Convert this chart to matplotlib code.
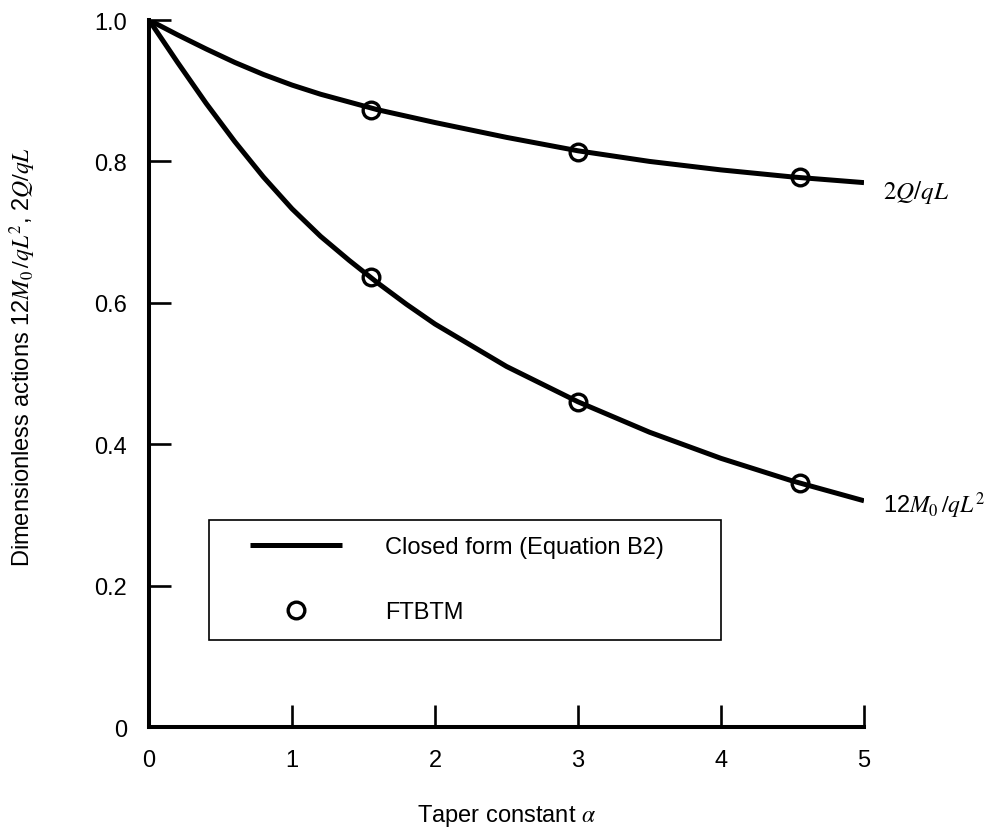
import numpy as np
import matplotlib
matplotlib.use("Agg")
import matplotlib.pyplot as plt
from matplotlib.legend_handler import HandlerLine2D

plt.rcParams['font.family'] = ['Liberation Sans', 'DejaVu Sans']
plt.rcParams['mathtext.fontset'] = 'stix'

# closed form curves
alpha_curve = [0, 0.2, 0.4, 0.6, 0.8, 1.0, 1.2, 1.4, 1.6, 1.8, 2.0, 2.5, 3.0, 3.5, 4.0, 4.5, 5.0]
shear_curve = [1.0, 0.979, 0.959, 0.94, 0.923, 0.908, 0.895, 0.884, 0.873, 0.864, 0.855,
               0.834, 0.815, 0.80, 0.788, 0.778, 0.770]
moment_curve = [1.0, 0.94, 0.882, 0.828, 0.778, 0.733, 0.694, 0.66, 0.628, 0.598, 0.57,
                0.51, 0.46, 0.417, 0.38, 0.348, 0.32]

# FTBTM points
alpha_pts = [1.55, 3.0, 4.55]
shear_pts = [0.873, 0.814, 0.778]
moment_pts = [0.636, 0.460, 0.345]

xticks = [0, 1, 2, 3, 4, 5]
yticks = [0, 0.2, 0.4, 0.6, 0.8, 1.0]
ytick_labels = ['0', '0.2', '0.4', '0.6', '0.8', '1.0']

fig = plt.figure(figsize=(10, 8.37), dpi=100)
ax = fig.add_axes([0.149, 0.1302, 0.715, 0.8447])

lw = 3.6
ax.plot(alpha_curve, shear_curve, color='black', lw=lw, solid_capstyle='butt',
        solid_joinstyle='round', label='Closed form (Equation B2)')
ax.plot(alpha_curve, moment_curve, color='black', lw=lw, solid_capstyle='butt',
        solid_joinstyle='round')
ax.plot(alpha_pts, shear_pts, ls='none', marker='o', ms=12, mew=2.4,
        mfc='none', mec='black', label='FTBTM')
ax.plot(alpha_pts, moment_pts, ls='none', marker='o', ms=12, mew=2.4,
        mfc='none', mec='black')

ax.set_xlim(0, 5)
ax.set_ylim(0, 1.0)
ax.set_xticks(xticks)
ax.set_yticks(yticks)
ax.set_yticklabels(ytick_labels)

for s in ['top', 'right']:
    ax.spines[s].set_visible(False)
for s in ['left', 'bottom']:
    ax.spines[s].set_linewidth(2.9)

ax.tick_params(direction='in', length=16, width=1.9, pad=16, labelsize=17)

ax.set_xlabel(r'Taper constant $\alpha$', fontsize=17)
ax.set_ylabel(r'Dimensionless actions 12$M_0\,/qL^2$, 2$Q/qL$', fontsize=17)
ax.xaxis.set_label_coords(0.5, -0.106)
ax.yaxis.set_label_coords(-0.155, 0.525)

# curve labels beyond the right end
ax.text(5.13, shear_curve[-1] - 0.012, r'$2Q/qL$', fontsize=18, va='center',
        ha='left', clip_on=False)
ax.text(5.13, moment_curve[-1] - 0.006, r'12$M_0\,/qL^2$', fontsize=17, va='center',
        ha='left', clip_on=False)

hm = {}
for line in ax.get_lines()[::2]:
    hm[line] = HandlerLine2D(xpad=1.04)
leg = ax.legend(loc='upper left', bbox_to_anchor=(0.084, 0.122, 0.716, 0.171),
                mode='expand', fontsize=17, frameon=True, fancybox=False,
                edgecolor='black', framealpha=1, borderpad=0.7, borderaxespad=0,
                labelspacing=1.81, handlelength=4.94, handletextpad=1.8,
                handler_map=hm)
leg.get_frame().set_linewidth(1.2)

fig.savefig('out.png', dpi=100)
